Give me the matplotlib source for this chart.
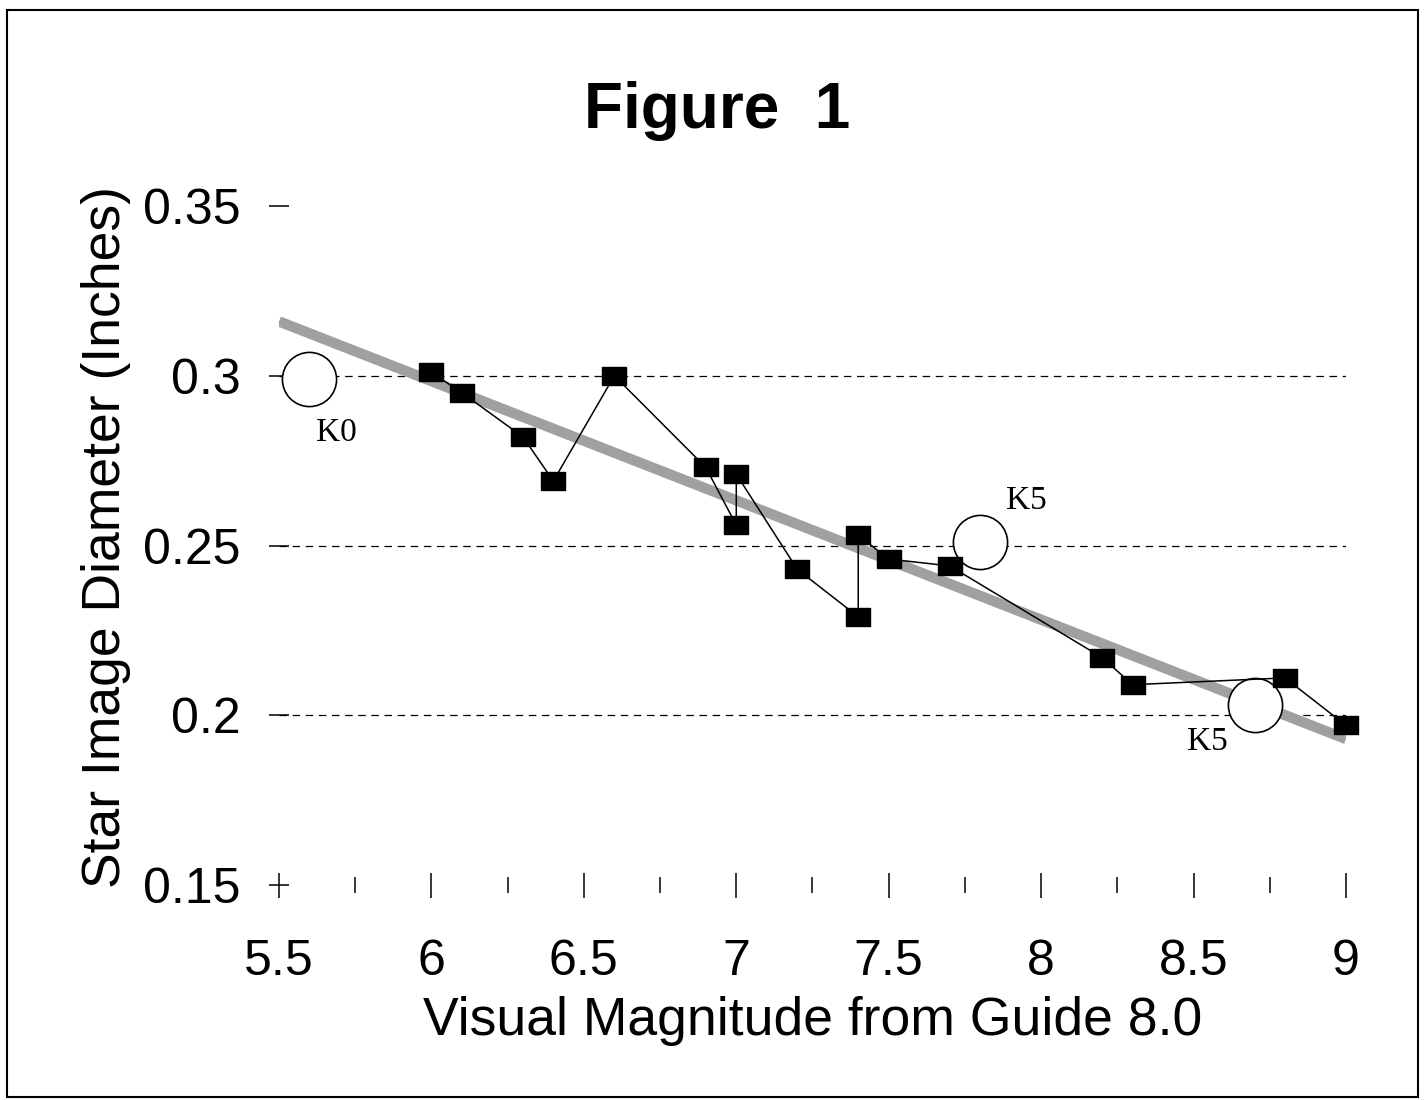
import matplotlib.pyplot as plt
from matplotlib.patches import Rectangle

# Du lieu doc tu hinh
mag = [6.0, 6.1, 6.3, 6.4, 6.6, 6.9, 7.0, 7.0, 7.2, 7.4, 7.4, 7.5, 7.7, 8.2, 8.3, 8.8, 9.0]
diam = [0.301, 0.295, 0.282, 0.269, 0.300, 0.273, 0.256, 0.271, 0.243, 0.229, 0.253,
        0.246, 0.244, 0.217, 0.209, 0.211, 0.197]

# Sao loai K (vong tron trang)
k_mag = [5.6, 7.8, 8.7]
k_diam = [0.299, 0.251, 0.203]
k_labels = ["K0", "K5", "K5"]

# Duong xu huong
trend_mag = [5.5, 9.0]
trend_diam = [0.316, 0.193]

grid_levels = [0.2, 0.25, 0.3]
x_ticks = [5.5, 6, 6.5, 7, 7.5, 8, 8.5, 9]
x_minor = [5.75, 6.25, 6.75, 7.25, 7.75, 8.25, 8.75]
y_ticks = [0.15, 0.2, 0.25, 0.3, 0.35]
y_ticklabels = ["0.15", "0.2", "0.25", "0.3", "0.35"]

plt.rcParams['font.family'] = ['Liberation Sans', 'DejaVu Sans']

W, H = 1427, 1100
fig = plt.figure(figsize=(W / 100, H / 100), dpi=100)
ax = fig.add_axes([279 / W, 1 - 885 / H, (1346 - 279) / W, (885 - 206) / H])

for y in grid_levels:
    ax.axhline(y, color='black', lw=0.9, ls=(0, (6, 4.5)), zorder=1)

ax.plot(trend_mag, trend_diam, color='#a0a0a0', lw=7.5, solid_capstyle='butt', zorder=2)

ax.plot(k_mag, k_diam, 'o', ms=39, mfc='white', mec='black', mew=1.2,
        clip_on=False, zorder=3)

rect = [(-1.2, -0.95), (1.2, -0.95), (1.2, 0.95), (-1.2, 0.95), (-1.2, -0.95)]
ax.plot(mag, diam, color='black', lw=1.1, marker=rect, ms=17, mfc='black',
        mec='black', clip_on=False, zorder=4)

# Nhan K0/K5
offsets = [(27, -54), (46, 41), (-47, -37)]
for xm, ym, lab, off in zip(k_mag, k_diam, k_labels, offsets):
    ax.annotate(lab, (xm, ym), xytext=off, textcoords='offset pixels',
                ha='center', va='center', fontsize=24, family='Liberation Serif')

ax.set_xlim(5.5, 9.0)
ax.set_ylim(0.15, 0.35)
for s in ax.spines.values():
    s.set_visible(False)

ax.set_xticks(x_ticks)
ax.set_xticklabels([f"{v:g}" for v in x_ticks])
ax.set_xticks(x_minor, minor=True)
ax.set_yticks(y_ticks)
ax.set_yticklabels(y_ticklabels)
ax.tick_params(axis='x', which='major', direction='inout', length=18, width=1.1,
               labelsize=36, pad=30)
ax.tick_params(axis='x', which='minor', direction='inout', length=11, width=1.1)
ax.tick_params(axis='y', which='major', direction='inout', length=15, width=1.1,
               labelsize=36, pad=20)

ax.set_xlabel('Visual Magnitude from Guide 8.0', fontsize=38.5, labelpad=8)
ax.set_ylabel('Star Image Diameter (Inches)', fontsize=38.5)
ax.yaxis.set_label_coords(-0.139, 0.5125)

fig.text(717 / W, 1 - 111 / H, 'Figure  1', ha='center', va='center',
         fontsize=46, fontweight='bold')

# Khung vien ngoai
fig.patches.append(Rectangle((7 / W, 1 - 1097 / H), (1418 - 7) / W, (1097 - 10) / H,
                             transform=fig.transFigure, fill=False,
                             edgecolor='black', lw=1.5))

fig.savefig('out.png', dpi=100)
